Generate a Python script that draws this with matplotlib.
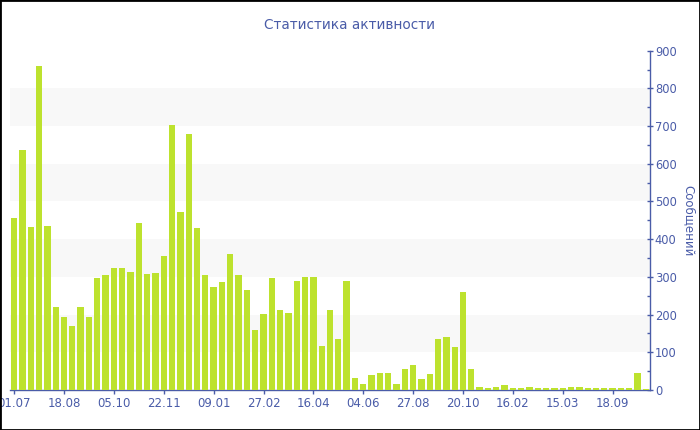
import numpy as np
from matplotlib import pyplot as plt
from matplotlib.patches import Rectangle

# messages per period (77 bars)
values = [456, 636, 433, 860, 436, 219, 194, 170, 220, 194,
          298, 305, 323, 323, 314, 443, 307, 310, 355, 703,
          473, 678, 429, 304, 272, 286, 362, 305, 266, 160,
          201, 296, 212, 205, 289, 301, 299, 118, 211, 135,
          290, 33, 16, 41, 45, 45, 17, 57, 66, 28,
          42, 134, 140, 113, 259, 55, 7, 5, 7, 14,
          4, 4, 8, 4, 4, 4, 5, 8, 9, 5,
          4, 5, 5, 4, 4, 45, 3]
tick_labels = ["01.07", "18.08", "05.10", "22.11", "09.01", "27.02", "16.04",
               "04.06", "27.08", "20.10", "16.02", "15.03", "18.09"]
tick_step = 6

title = "Статистика активности"
ylabel = "Сообщений"

BAR = "#bde22e"
BLUE = "#4a5ca8"

fig = plt.figure(figsize=(7, 4.3), dpi=100)
ax = fig.add_axes([10/700, 1 - 390/430, 640/700, (390 - 50.7)/430])

x = np.arange(len(values))
ax.bar(x, values, width=0.76, color=BAR, zorder=3)

# alternating background bands
for lo in range(100, 900, 200):
	ax.axhspan(lo, lo + 100, color="#f8f8f8", lw=0, zorder=0)

ax.set_xlim(-0.5, len(values) - 0.5)
ax.set_ylim(0, 900)

ax.set_xticks(x[::tick_step])
ax.set_xticklabels(tick_labels)
ax.yaxis.tick_right()
ax.yaxis.set_label_position("right")
ax.set_yticks(range(0, 901, 100))
ax.set_yticks(range(50, 900, 100), minor=True)

for s in ["top", "left"]:
	ax.spines[s].set_visible(False)
for s in ["bottom", "right"]:
	ax.spines[s].set_color(BLUE)
	ax.spines[s].set_linewidth(1)

ax.tick_params(axis="x", colors=BLUE, length=3, width=1, labelsize=8.5, pad=2)
ax.tick_params(axis="y", which="major", colors=BLUE, direction="inout", length=5,
			   width=1, labelsize=8.3, pad=1)
ax.tick_params(axis="y", which="minor", colors=BLUE, direction="in", length=2.5, width=1)

ax.set_ylabel(ylabel, color=BLUE, rotation=270, fontsize=8.5, labelpad=13)
fig.text(350/700, 1 - 25/430, title, color=BLUE, fontsize=9.8, ha="center", va="center")

# outer frame
fig.patches.append(Rectangle((0, 0), 1, 1, transform=fig.transFigure, fill=False,
							 edgecolor="black", lw=2))

fig.savefig("out.png", dpi=100)
